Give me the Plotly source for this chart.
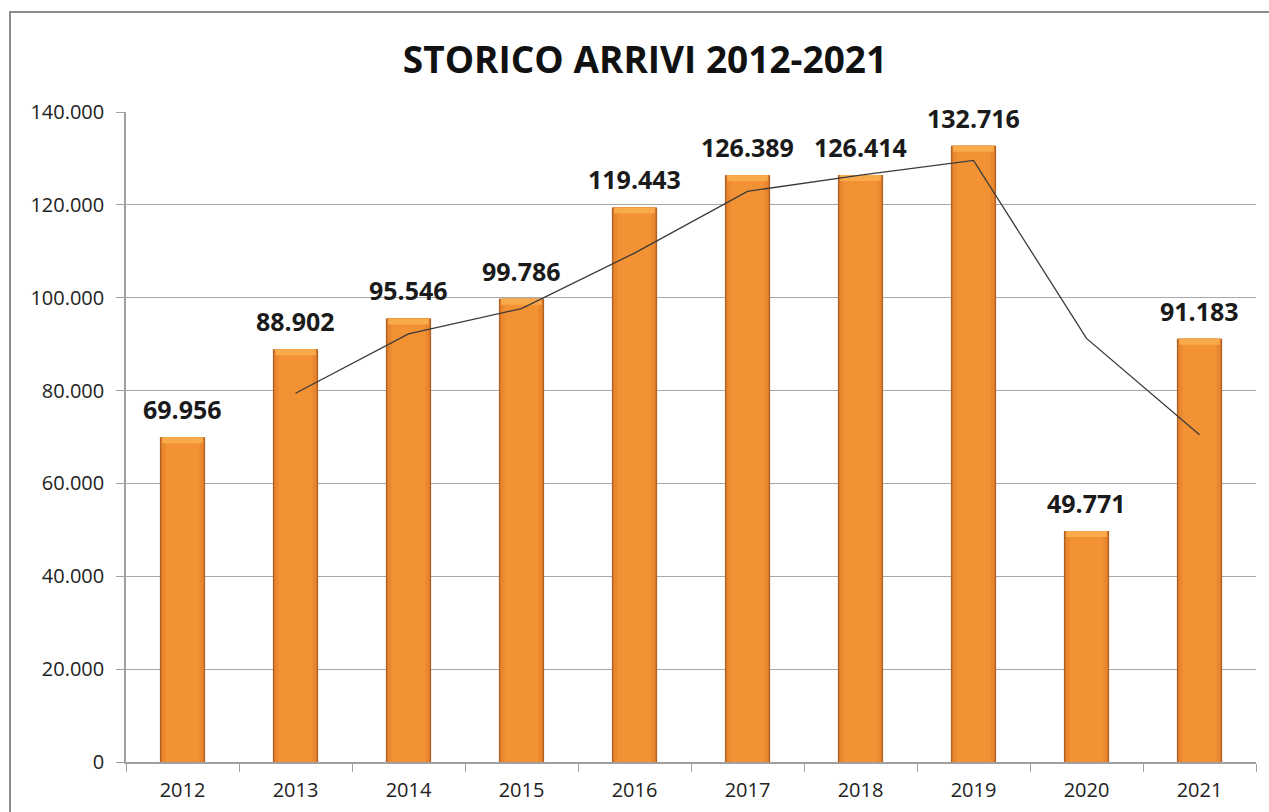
import plotly.graph_objects as go

years = ["2012", "2013", "2014", "2015", "2016", "2017", "2018", "2019", "2020", "2021"]
arrivals = [69956, 88902, 95546, 99786, 119443, 126389, 126414, 132716, 49771, 91183]
labels = ["69.956", "88.902", "95.546", "99.786", "119.443", "126.389", "126.414", "132.716", "49.771", "91.183"]
trend_years = ["2013", "2014", "2015", "2016", "2017", "2018", "2019", "2020", "2021"]
trend_values = [79429, 92224, 97666, 109614, 122916, 126401, 129565, 91243, 70477]

W, H = 1269, 812
L, R, T, B = 126, 13, 112, 50
pw, ph = W - L - R, H - T - B

fig = go.Figure()

# layered bars to fake the shaded bar look
layers = [(0.40, "#A3581F"), (0.385, "#D8772A"), (0.36, "#EA8830"), (0.30, "#F29234")]
for w, c in layers:
    fig.add_trace(go.Bar(
        x=years, y=arrivals, width=w, marker=dict(color=c, line=dict(width=0)),
        hoverinfo="skip", showlegend=False,
    ))

# lighter bevel at the top of each bar
bevel = 1300
fig.add_trace(go.Bar(
    x=years, y=[bevel] * len(years), base=[v - bevel for v in arrivals], width=0.36,
    marker=dict(color="#F9AA4A", line=dict(width=0)), hoverinfo="skip", showlegend=False,
))

fig.add_trace(go.Scatter(
    x=trend_years, y=trend_values, mode="lines",
    line=dict(color="#3a3a3a", width=1.3), showlegend=False, hoverinfo="skip",
))

for i, (v, lab) in enumerate(zip(arrivals, labels)):
    fig.add_annotation(x=i, y=v, text="<b>" + lab + "</b>", showarrow=False,
                       yanchor="bottom", xanchor="center", yshift=9,
                       font=dict(family="Open Sans", size=25, color="#1a1a1a"))

# outer border of chart area
def px_x(p):
    return (p - L) / pw

def px_y(p):
    return (H - B - p) / ph

fig.add_shape(type="rect", xref="paper", yref="paper",
              x0=px_x(10), x1=px_x(1290), y0=px_y(12), y1=px_y(830),
              line=dict(color="#8c8c8c", width=2), fillcolor="rgba(0,0,0,0)", layer="below")

fig.update_layout(
    width=W, height=H,
    margin=dict(l=L, r=R, t=T, b=B, autoexpand=False),
    paper_bgcolor="white", plot_bgcolor="white",
    barmode="overlay",
    separators=",.",
    title=dict(text="<b>STORICO ARRIVI 2012-2021</b>", x=645 / W, xanchor="center",
               y=1 - 60 / H, yanchor="middle", yref="container",
               font=dict(family="Open Sans", size=37, color="#111111")),
    xaxis=dict(type="category", categoryorder="array", categoryarray=years,
               range=[-0.5, len(years) - 0.5],
               showgrid=False, showline=True, linecolor="#a0a0a0", linewidth=1.5,
               ticks="outside", tickson="boundaries", ticklen=8, tickcolor="#a0a0a0",
               ticklabelstandoff=9,
               tickfont=dict(family="Open Sans", size=20, color="#222222")),
    yaxis=dict(range=[0, 140000], dtick=20000, tickformat=",d",
               showgrid=True, gridcolor="#a8a8a8", gridwidth=1.2,
               showline=True, linecolor="#a0a0a0", linewidth=1.5,
               ticks="outside", ticklen=8, tickcolor="#a0a0a0", zeroline=False,
               ticklabelstandoff=8,
               tickfont=dict(family="Open Sans", size=20, color="#222222")),
)

fig.write_html("out.html", config={"displayModeBar": False},
               post_script="document.body.style.margin='0';")
